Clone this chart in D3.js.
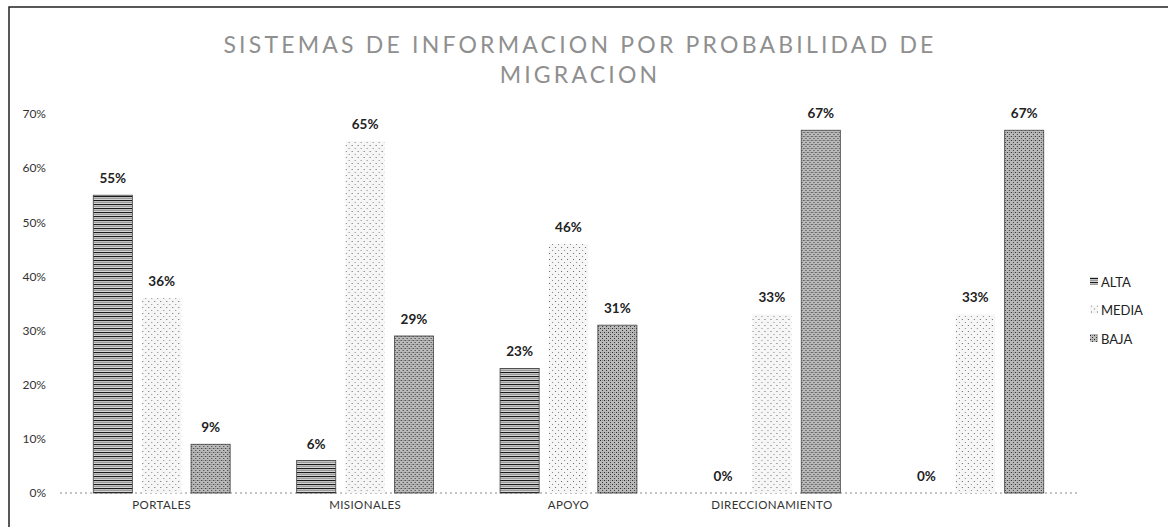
<!DOCTYPE html>
<html>
<head>
<meta charset="utf-8">
<script src="https://cdn.jsdelivr.net/npm/d3@7"></script>
<style>
  body { margin: 0; background: #fff; }
  svg { display: block; }
</style>
</head>
<body>
<svg id="chart" width="1168" height="527"></svg>
<script>
const categories = ["PORTALES", "MISIONALES", "APOYO", "DIRECCIONAMIENTO", ""];
const seriesNames = ["ALTA", "MEDIA", "BAJA"];
const alta  = [55, 6, 23, 0, 0];
const media = [36, 65, 46, 33, 33];
const baja  = [9, 29, 31, 67, 67];
const yTicks = [0, 10, 20, 30, 40, 50, 60, 70];
const titleLines = ["SISTEMAS DE INFORMACION POR PROBABILIDAD DE", "MIGRACION"];

const values = [alta, media, baja];
const rows = categories.map((c, i) => ({
  cat: i,
  name: c,
  vals: seriesNames.map((s, k) => ({ key: s, value: values[k][i] }))
}));

const svg = d3.select("#chart");
const font = "Lato, 'Open Sans', 'Liberation Sans', sans-serif";

// patterns
const defs = svg.append("defs");
const pA = defs.append("pattern").attr("id", "pALTA").attr("patternUnits", "userSpaceOnUse")
  .attr("width", 6).attr("height", 4);
pA.append("rect").attr("width", 6).attr("height", 4).attr("fill", "#d4d4d4");
pA.append("rect").attr("y", 0).attr("width", 6).attr("height", 1.1).attr("fill", "#1a1a1a");
pA.append("rect").attr("y", 2).attr("width", 6).attr("height", 0.8).attr("fill", "#8a8a8a");

const pM = defs.append("pattern").attr("id", "pMEDIA").attr("patternUnits", "userSpaceOnUse")
  .attr("width", 6).attr("height", 6);
pM.append("rect").attr("width", 6).attr("height", 6).attr("fill", "#f6f6f6");
pM.append("rect").attr("x", 1).attr("y", 1).attr("width", 1).attr("height", 1).attr("fill", "#666");
pM.append("rect").attr("x", 4).attr("y", 4).attr("width", 1).attr("height", 1).attr("fill", "#888");

const pB = defs.append("pattern").attr("id", "pBAJA").attr("patternUnits", "userSpaceOnUse")
  .attr("width", 4).attr("height", 4);
pB.append("rect").attr("width", 4).attr("height", 4).attr("fill", "#bababa");
pB.append("rect").attr("x", 0).attr("y", 0).attr("width", 1).attr("height", 1).attr("fill", "#222");
pB.append("rect").attr("x", 2).attr("y", 2).attr("width", 1).attr("height", 1).attr("fill", "#333");
pB.append("rect").attr("x", 2).attr("y", 0).attr("width", 1).attr("height", 1).attr("fill", "#888");

const fills = { ALTA: "url(#pALTA)", MEDIA: "url(#pMEDIA)", BAJA: "url(#pBAJA)" };
const strokes = { ALTA: "#444", MEDIA: "none", BAJA: "#444" };

// frame
svg.append("rect").attr("x", 9).attr("y", 7).attr("width", 1200).attr("height", 600)
  .attr("fill", "none").attr("stroke", "#222").attr("stroke-width", 1.5);

// title
svg.append("text").attr("x", 580).attr("y", 0)
  .attr("text-anchor", "middle").attr("font-family", font).attr("font-size", 23)
  .attr("letter-spacing", 3.2).attr("fill", "#8f8f8f")
  .selectAll("tspan").data(titleLines).join("tspan")
  .attr("x", 580).attr("y", (d, i) => 53 + i * 30).text(d => d);

// scales
const plotLeft = 60, plotRight = 1077, y0 = 493, yTop = 114;
const x0 = d3.scaleBand().domain(d3.range(categories.length))
  .range([plotLeft, plotRight]).paddingInner(0.327).paddingOuter(0.1635);
const x1 = d3.scaleBand().domain(seriesNames).range([0, x0.bandwidth()]).paddingInner(0.2);
const y = d3.scaleLinear().domain([0, 70]).range([y0, yTop]);

// y axis (labels only)
const yAxis = d3.axisLeft(y).tickValues(yTicks).tickFormat(d => d + "%").tickSize(0).tickPadding(0);
const gy = svg.append("g").attr("transform", `translate(46,0)`).call(yAxis);
gy.select(".domain").remove();
gy.selectAll("text").attr("font-family", font).attr("font-size", 12).attr("fill", "#333");

// baseline
svg.append("line").attr("x1", plotLeft).attr("x2", plotRight).attr("y1", y0).attr("y2", y0)
  .attr("stroke", "#888").attr("stroke-width", 1).attr("stroke-dasharray", "2,3");

// x axis labels
const xAxis = d3.axisBottom(x0).tickFormat(i => categories[i]).tickSize(0).tickPadding(8);
const gx = svg.append("g").attr("transform", `translate(0,${y0})`).call(xAxis);
gx.select(".domain").remove();
gx.selectAll("text").attr("font-family", font).attr("font-size", 11.5)
  .attr("letter-spacing", 0.4).attr("fill", "#333");

// bars
const groups = svg.append("g").selectAll("g").data(rows).join("g")
  .attr("transform", d => `translate(${x0(d.cat)},0)`);
groups.selectAll("rect").data(d => d.vals).join("rect")
  .attr("x", d => x1(d.key)).attr("width", x1.bandwidth())
  .attr("y", d => y(d.value)).attr("height", d => y0 - y(d.value))
  .attr("fill", d => fills[d.key])
  .attr("stroke", d => d.value > 0 ? strokes[d.key] : "none").attr("stroke-width", 0.8);
groups.selectAll("text.val").data(d => d.vals).join("text").attr("class", "val")
  .attr("x", d => x1(d.key) + x1.bandwidth() / 2).attr("y", d => y(d.value) - 12)
  .attr("text-anchor", "middle").attr("font-family", font).attr("font-size", 13.5)
  .attr("font-weight", "bold").attr("fill", "#222")
  .text(d => d.value + "%");

// legend
const leg = svg.append("g").selectAll("g").data(seriesNames).join("g")
  .attr("transform", (d, i) => `translate(1090,${282 + i * 28.5})`);
leg.append("rect").attr("x", 0).attr("y", -5).attr("width", 8).attr("height", 8)
  .attr("fill", d => fills[d]);
leg.append("text").attr("x", 11).attr("y", 0).attr("dy", "0.35em")
  .attr("font-family", font).attr("font-size", 13).attr("fill", "#222").text(d => d);
</script>
</body>
</html>
